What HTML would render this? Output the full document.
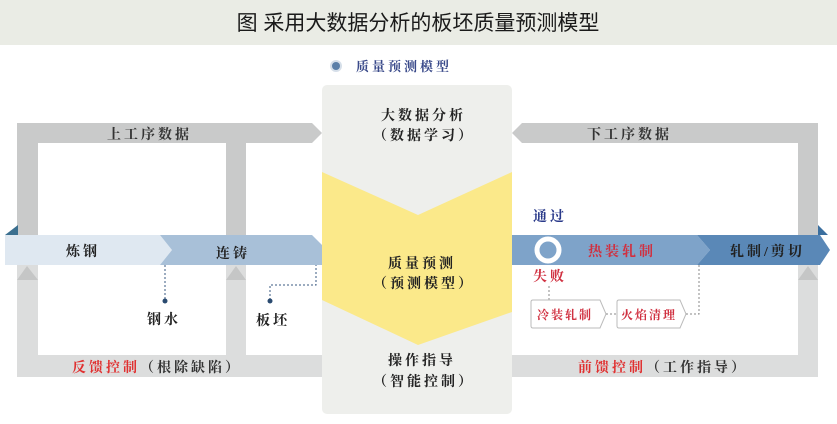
<!DOCTYPE html>
<html><head><meta charset="utf-8"><style>
html,body{margin:0;padding:0;background:#fff}
svg{display:block}
text{font-family:"Liberation Serif","Noto Serif CJK SC",serif;font-weight:bold;letter-spacing:3px}
</style></head><body>
<svg width="837" height="424" viewBox="0 0 837 424" xmlns="http://www.w3.org/2000/svg">
<rect x="0" y="0" width="837" height="45" fill="#eaece5"/>
<text x="418" y="30" text-anchor="middle" font-size="21" style="font-family:'Liberation Sans','Noto Sans CJK SC',sans-serif;font-weight:normal;letter-spacing:0" fill="#1a1a1a">图  采用大数据分析的板坯质量预测模型</text>
<circle cx="336" cy="66" r="6" fill="#5b7fa8" opacity="0.25"/>
<circle cx="336" cy="66" r="4" fill="#5b7fa8"/>
<text x="356" y="71" font-size="13" fill="#3a4a8a">质量预测模型</text>

<!-- left loop -->
<rect x="17" y="123" width="21" height="232" fill="#c9caca"/>
<rect x="17" y="265" width="21" height="112" fill="#dcdddd"/>
<rect x="226" y="143" width="20" height="100" fill="#c9caca"/>
<rect x="226" y="265" width="20" height="100" fill="#dcdddd"/>
<path d="M17 128 Q17 123 22 123 L312 123 L322 133 L312 143 L17 143 Z" fill="#c9caca"/>
<path d="M17 355 L322 355 L322 377 L22 377 Q17 377 17 372 Z" fill="#dcdddd"/>
<path d="M17 280 L27 266 L38 280 Z" fill="#c5c6c6"/>
<path d="M226 280 L236 266 L246 280 Z" fill="#c5c6c6"/>

<!-- right loop -->
<rect x="798" y="123" width="20" height="254" fill="#c9caca"/>
<rect x="798" y="265" width="20" height="112" fill="#dcdddd"/>
<path d="M818 128 Q818 123 813 123 L522 123 L512 133 L522 143 L818 143 Z" fill="#c9caca"/>
<path d="M512 355 L818 355 L818 372 Q818 377 813 377 L512 377 Z" fill="#dcdddd"/>
<path d="M798 280 L808 266 L818 280 Z" fill="#c5c6c6"/>

<!-- center panel -->
<rect x="322" y="85" width="190" height="329" rx="5" fill="#eeefec"/>
<polygon points="322,172 418,215 512,172 512,312 418,345 322,300" fill="#fbe98a"/>

<!-- flow bar -->
<polygon points="5,235 160,235 172,250 160,265 5,265" fill="#dfe8f1"/>
<polygon points="160,235 312,235 322,245 322,265 160,265 172,250" fill="#a8c0d8"/>
<polygon points="5,235 18,225 18,235" fill="#3b6f8f"/>
<polygon points="512,235 697,235 710,250 697,265 512,265" fill="#7ea3c9"/>
<polygon points="697,235 820,235 830,250 820,265 697,265 710,250" fill="#5a88b7"/>
<polygon points="818,235 818,225 828,235" fill="#3b6f9f"/>

<text x="66" y="256" font-size="14" fill="#222">炼钢</text>
<text x="216" y="258" font-size="14" fill="#222">连铸</text>
<text x="107" y="139" font-size="14" fill="#333">上工序数据</text>
<text x="587" y="139" font-size="14" fill="#333">下工序数据</text>

<line x1="165" y1="265" x2="165" y2="300" stroke="#3a5a80" stroke-dasharray="2,2"/>
<circle cx="165" cy="301" r="2.5" fill="#2a4a70"/>
<text x="147" y="324" font-size="14" fill="#222">钢水</text>
<polyline points="270,300 270,285 316,285 316,265" fill="none" stroke="#3a5a80" stroke-dasharray="2,2"/>
<circle cx="270" cy="301" r="2.5" fill="#2a4a70"/>
<text x="256" y="325" font-size="14" fill="#222">板坯</text>

<text x="72" y="372" font-size="14" fill="#e03030">反馈控制<tspan fill="#333">（根除缺陷）</tspan></text>
<text x="578" y="372" font-size="14" fill="#e03030">前馈控制<tspan fill="#333">（工作指导）</tspan></text>

<g font-size="14" fill="#222">
<text x="381" y="120">大数据分析</text>
<text x="373" y="140">（数据学习）</text>
<text x="388" y="268">质量预测</text>
<text x="373" y="288">（预测模型）</text>
<text x="388" y="365">操作指导</text>
<text x="373" y="386">（智能控制）</text>
</g>

<text x="533" y="221" font-size="14" fill="#2a3a8a">通过</text>
<circle cx="548" cy="250" r="11" fill="#7ea3c9" stroke="#fff" stroke-width="5"/>
<text x="588" y="256" font-size="14" fill="#d03040">热装轧制</text>
<text x="730" y="256" font-size="14" fill="#222">轧制/剪切</text>
<text x="533" y="281" font-size="14" fill="#d03040">失败</text>
<line x1="549" y1="286" x2="549" y2="300" stroke="#888" stroke-dasharray="2,2"/>
<path d="M533 300 L600 300 L606 314 L600 328 L533 328 Q531 328 531 326 L531 302 Q531 300 533 300 Z" fill="#fff" stroke="#bbb"/>
<text x="537" y="319" font-size="12" fill="#d03040" style="letter-spacing:2px">冷装轧制</text>
<line x1="606" y1="314" x2="617" y2="314" stroke="#888" stroke-dasharray="2,2"/>
<path d="M619 300 L680 300 L686 314 L680 328 L619 328 Q617 328 617 326 L617 302 Q617 300 619 300 Z" fill="#fff" stroke="#bbb"/>
<text x="621" y="319" font-size="12" fill="#d03040" style="letter-spacing:2px">火焰清理</text>
<polyline points="686,314 699,314 699,265" fill="none" stroke="#888" stroke-dasharray="2,2"/>
</svg>
</body></html>
